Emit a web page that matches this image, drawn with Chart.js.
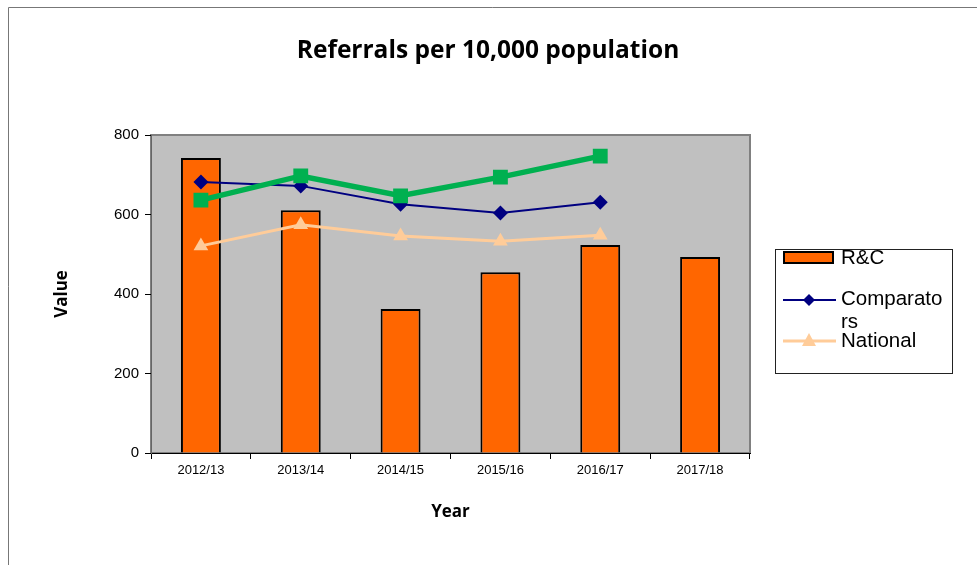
<!DOCTYPE html>
<html>
<head>
<meta charset="utf-8">
<script src="https://cdn.jsdelivr.net/npm/chart.js@4/dist/chart.umd.min.js"></script>
<style>
  html, body { margin: 0; padding: 0; background: #fff; }
  #wrap { position: relative; width: 977px; height: 565px; }
</style>
</head>
<body>
<div id="wrap"><canvas id="canvas-ref" width="977" height="565"></canvas></div>
<script>
const years = ['2012/13', '2013/14', '2014/15', '2015/16', '2016/17', '2017/18'];
const rc = [742, 611, 362, 455, 523, 493];
const comparators = [682, 672, 626, 604, 631, null];
const national = [521, 574, 546, 533, 548, null];
const green = [636, 697, 647, 694, 747, null];

const frame = {
  id: 'frame',
  beforeDraw(chart) {
    const ctx = chart.ctx;
    const a = chart.chartArea;
    ctx.save();
    ctx.fillStyle = '#fff';
    ctx.fillRect(0, 0, chart.width, chart.height);
    // outer frame
    ctx.strokeStyle = '#777';
    ctx.lineWidth = 1;
    ctx.beginPath();
    ctx.moveTo(8.5, 565);
    ctx.lineTo(8.5, 7.5);
    ctx.lineTo(977, 7.5);
    ctx.stroke();
    // plot area
    ctx.fillStyle = '#C0C0C0';
    ctx.fillRect(a.left, a.top, a.right - a.left, a.bottom - a.top);
    ctx.strokeStyle = '#808080';
    ctx.lineWidth = 2;
    ctx.strokeRect(a.left, a.top, a.right - a.left, a.bottom - a.top);
    // title
    ctx.fillStyle = '#000';
    ctx.font = 'bold 24.5px "Open Sans"';
    ctx.textAlign = 'center';
    ctx.textBaseline = 'middle';
    ctx.fillText('Referrals per 10,000 population', 488, 51);
    ctx.restore();
  },
  afterDraw(chart) {
    const ctx = chart.ctx;
    ctx.save();
    // legend box
    ctx.strokeStyle = '#222';
    ctx.lineWidth = 1;
    ctx.strokeRect(775.5, 249.5, 177, 124);
    ctx.font = '20.5px "Liberation Sans"';
    ctx.fillStyle = '#000';
    ctx.textAlign = 'left';
    ctx.textBaseline = 'middle';
    // R&C
    ctx.fillStyle = '#FF6600';
    ctx.fillRect(784, 252, 49, 11);
    ctx.strokeStyle = '#000';
    ctx.lineWidth = 2;
    ctx.strokeRect(784, 252, 49, 11);
    ctx.fillStyle = '#000';
    ctx.fillText('R&C', 841, 258);
    // Comparators
    ctx.strokeStyle = '#000080';
    ctx.lineWidth = 2;
    ctx.beginPath();
    ctx.moveTo(783, 300);
    ctx.lineTo(836, 300);
    ctx.stroke();
    ctx.fillStyle = '#000080';
    ctx.beginPath();
    ctx.moveTo(809, 294);
    ctx.lineTo(815, 300);
    ctx.lineTo(809, 306);
    ctx.lineTo(803, 300);
    ctx.closePath();
    ctx.fill();
    ctx.fillStyle = '#000';
    ctx.fillText('Comparato', 841, 299);
    ctx.fillText('rs', 841, 322);
    // National
    ctx.strokeStyle = '#FFCC99';
    ctx.lineWidth = 3;
    ctx.beginPath();
    ctx.moveTo(783, 341);
    ctx.lineTo(836, 341);
    ctx.stroke();
    ctx.fillStyle = '#FFCC99';
    ctx.beginPath();
    ctx.moveTo(809, 333);
    ctx.lineTo(816, 346);
    ctx.lineTo(802, 346);
    ctx.closePath();
    ctx.fill();
    ctx.fillStyle = '#000';
    ctx.fillText('National', 841, 341);
    ctx.restore();
  }
};

new Chart(document.getElementById('canvas-ref').getContext('2d'), {
  data: {
    labels: years,
    datasets: [
      {
        type: 'bar',
        label: 'R&C',
        data: rc,
        backgroundColor: '#FF6600',
        borderColor: '#000',
        borderWidth: 2,
        barPercentage: 0.4,
        categoryPercentage: 1,
        order: 4,
      },
      {
        type: 'line',
        label: 'Comparators',
        data: comparators,
        borderColor: '#000080',
        backgroundColor: '#000080',
        borderWidth: 2,
        pointStyle: 'rectRot',
        pointRadius: 7.5,
        pointBorderWidth: 0,
        tension: 0,
        order: 2,
      },
      {
        type: 'line',
        label: 'National',
        data: national,
        borderColor: '#FFCC99',
        backgroundColor: '#FFCC99',
        borderWidth: 3,
        pointStyle: 'triangle',
        pointRadius: 8.5,
        pointBorderWidth: 0,
        tension: 0,
        order: 3,
      },
      {
        type: 'line',
        label: 'Series 4',
        data: green,
        borderColor: '#00B050',
        backgroundColor: '#00B050',
        borderWidth: 5.5,
        pointStyle: 'rect',
        pointRadius: 10.5,
        pointBorderWidth: 0,
        tension: 0,
        order: 1,
      },
    ],
  },
  options: {
    responsive: false,
    animation: false,
    layout: {
      padding: { left: 48, right: 227, top: 135, bottom: 39 },
    },
    plugins: {
      legend: { display: false },
      tooltip: { enabled: false },
    },
    scales: {
      x: {
        offset: true,
        grid: {
          offset: true,
          drawOnChartArea: false,
          tickLength: 6,
          color: '#000',
        },
        border: { color: '#000', width: 1 },
        ticks: {
          color: '#000',
          font: { family: '"Liberation Sans"', size: 13 },
          padding: 4,
          maxRotation: 0,
        },
        title: {
          display: true,
          text: 'Year',
          color: '#000',
          font: { family: '"Open Sans"', size: 17, weight: 'bold' },
        },
        afterFit(scale) { scale.height = 73; },
      },
      y: {
        min: 0,
        max: 800,
        ticks: {
          stepSize: 200,
          color: '#000',
          font: { family: '"Liberation Sans"', size: 15 },
          padding: 6,
        },
        grid: {
          drawOnChartArea: false,
          tickLength: 6,
          color: '#000',
        },
        border: { color: '#666', width: 1 },
        title: {
          display: true,
          text: 'Value',
          color: '#000',
          font: { family: '"Open Sans"', size: 17, weight: 'bold' },
        },
        afterFit(scale) { scale.width = 103; },
      },
    },
  },
  plugins: [frame],
});
</script>
</body>
</html>
